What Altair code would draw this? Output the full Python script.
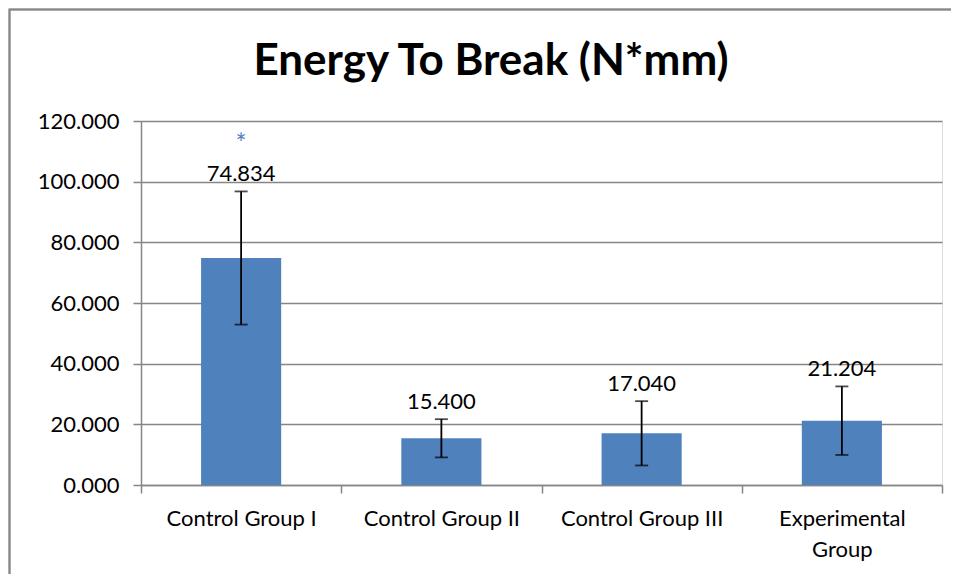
import altair as alt
import pandas as pd

groups = ["Control Group I", "Control Group II", "Control Group III", "Experimental Group"]
means = [74.834, 15.400, 17.040, 21.204]
sds = [21.95, 6.3, 10.6, 11.3]
marks = ["*", "", "", ""]
y_ticks = [0, 20, 40, 60, 80, 100, 120]
chart_title = "Energy To Break (N*mm)"

df = pd.DataFrame({"group": groups, "mean": means, "sd": sds, "mark": marks})

FONT = "Lato"
BLUE = "#4F81BD"
GRAY = "#868686"

base = alt.Chart(df).transform_calculate(
    lo="datum.mean - datum.sd",
    hi="datum.mean + datum.sd",
    label="format(datum.mean, '.3f')",
)

x_enc = alt.X(
    "group:N",
    sort=groups,
    scale=alt.Scale(paddingInner=0, paddingOuter=0),
    axis=alt.Axis(
        title=None,
        labelAngle=0,
        tickBand="extent",
        tickSize=8,
        tickColor=GRAY,
        tickWidth=1.5,
        domainColor=GRAY,
        domainWidth=1.5,
        labelFont=FONT,
        labelFontSize=22,
        labelColor="#000000",
        labelPadding=15,
        labelLineHeight=31,
        labelBaseline="top",
        labelExpr="datum.label == 'Experimental Group' ? ['Experimental', 'Group'] : datum.label",
    ),
)

y_scale = alt.Scale(domain=[0, 120])

bars = base.mark_bar(color=BLUE, width={"band": 0.4}).encode(
    x=x_enc,
    y=alt.Y(
        "mean:Q",
        scale=y_scale,
        axis=alt.Axis(
            title=None,
            values=y_ticks,
            format=".3f",
            grid=True,
            gridColor=GRAY,
            gridWidth=1.5,
            tickSize=8,
            tickColor=GRAY,
            tickWidth=1.5,
            domainColor=GRAY,
            domainWidth=1.5,
            labelFont=FONT,
            labelFontSize=22,
            labelColor="#000000",
            labelPadding=14,
        ),
    ),
)

rules = base.mark_rule(color="#000000", strokeWidth=1.8).encode(
    x=alt.X("group:N", sort=groups),
    y=alt.Y("lo:Q", scale=y_scale),
    y2="hi:Q",
)

caps_hi = base.mark_tick(color="#000000", size=13, thickness=1.8, orient="horizontal").encode(
    x=alt.X("group:N", sort=groups),
    y=alt.Y("hi:Q", scale=y_scale),
)
caps_lo = base.mark_tick(color="#000000", size=13, thickness=1.8, orient="horizontal").encode(
    x=alt.X("group:N", sort=groups),
    y=alt.Y("lo:Q", scale=y_scale),
)

labels = base.mark_text(font=FONT, fontSize=22, color="#000000", baseline="bottom", dy=-5).encode(
    x=alt.X("group:N", sort=groups),
    y=alt.Y("hi:Q", scale=y_scale),
    text="label:N",
)

stars = base.mark_text(font=FONT, fontSize=26, color=BLUE, baseline="bottom", dy=-33).encode(
    x=alt.X("group:N", sort=groups),
    y=alt.Y("hi:Q", scale=y_scale),
    text="mark:N",
)

frame = alt.Chart(df).mark_rect(fill=None, stroke=GRAY, strokeWidth=1.5).encode(
    x=alt.value(-131.5), x2=alt.value(830), y=alt.value(-111.5), y2=alt.value(600)
)

title_text = alt.Chart(pd.DataFrame({"t": [chart_title]})).mark_text(
    font=FONT, fontSize=44, fontWeight="bold", color="#000000", align="center", baseline="middle"
).encode(x=alt.value(350), y=alt.value(-59), text="t:N")

chart = (
    alt.layer(frame, bars, rules, caps_hi, caps_lo, labels, stars, title_text)
    .properties(
        width=801,
        height=364,
        autosize=alt.AutoSizeParams(type="none"),
        padding={"left": 133, "top": 113, "right": 9, "bottom": 89},
    )
    .configure_view(stroke=None)
    .configure(background="#ffffff")
)

chart.save("out.html", embed_options={"renderer": "svg", "actions": False})
